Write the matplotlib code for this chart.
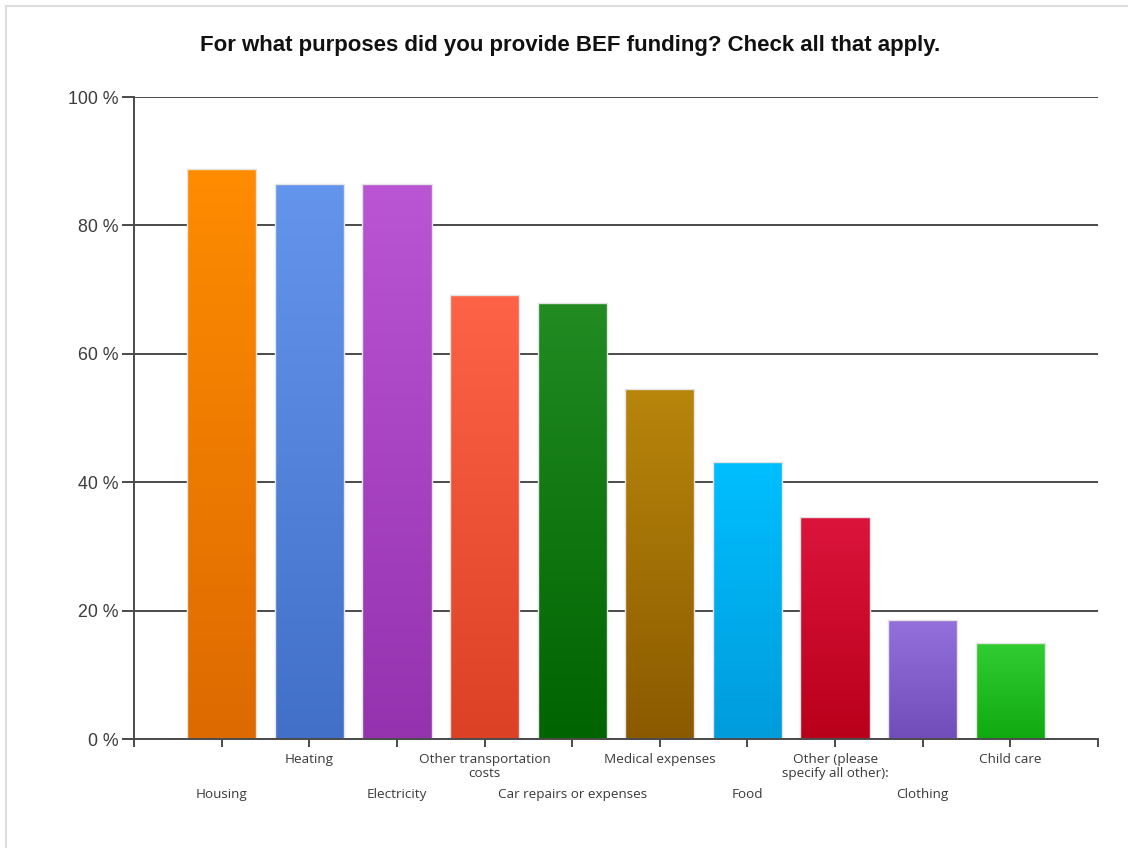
import numpy as np
import matplotlib
matplotlib.use("Agg")
import matplotlib.pyplot as plt
from matplotlib.colors import to_rgb
from matplotlib.lines import Line2D

categories = [
    "Housing", "Heating", "Electricity", "Other transportation\ncosts",
    "Car repairs or expenses", "Medical expenses", "Food",
    "Other (please\nspecify all other):", "Clothing", "Child care",
]
values = [88.8, 86.4, 86.4, 69.2, 67.9, 54.5, 43.1, 34.6, 18.5, 15.0]
top_colors = ["#FF8C00", "#6495ED", "#BA55D3", "#FF6347", "#228B22",
              "#B8860B", "#00BFFF", "#DC143C", "#9370DB", "#32CD32"]
bottom_colors = ["#DD6A00", "#4270C8", "#9532AE", "#DC4125", "#006400",
                 "#8B5A00", "#009CDC", "#B9001A", "#704DB8", "#10AA10"]
y_ticks = [0, 20, 40, 60, 80, 100]
y_tick_labels = [f"{t} %" for t in y_ticks]
title = "For what purposes did you provide BEF funding? Check all that apply."

W, H = 1128, 848
fig = plt.figure(figsize=(W / 100, H / 100), dpi=100)
fig.patch.set_facecolor("white")

# thin frame along the top and left edges of the canvas
fig.add_artist(Line2D([5.5 / W, 1], [1 - 5.5 / H, 1 - 5.5 / H], color="#dcdcdc", lw=1.5, transform=fig.transFigure))
fig.add_artist(Line2D([5.5 / W, 5.5 / W], [0, 1 - 5.5 / H], color="#dcdcdc", lw=1.5, transform=fig.transFigure))

ax = fig.add_axes([134 / W, 1 - 739 / H, (1098 - 134) / W, (739 - 97) / H])
ax.set_xlim(-1, len(categories))
ax.set_ylim(0, 100)

grid_color = "#4a4a4a"
for t in y_ticks:
    ax.axhline(t, color=grid_color, lw=1.4, zorder=1)

x = np.arange(len(categories))
bars = ax.bar(x, values, width=0.79, color="none", edgecolor="#e4e4e4", lw=1.0, zorder=3)

# vertical gradient fill for each bar, lighter at the top
for bar, c_top, c_bot in zip(bars, top_colors, bottom_colors):
    x0, w, h = bar.get_x(), bar.get_width(), bar.get_height()
    t = np.linspace(0, 1, 256)[:, None]
    grad = (np.array(to_rgb(c_top))[None, :] * (1 - t) + np.array(to_rgb(c_bot))[None, :] * t)
    img = ax.imshow(grad[:, None, :], extent=(x0, x0 + w, 0, h), aspect="auto",
                    origin="upper", zorder=2, interpolation="bilinear")
    img.set_clip_path(bar)

for side in ("top", "right"):
    ax.spines[side].set_visible(False)
for side in ("left", "bottom"):
    ax.spines[side].set_color(grid_color)
    ax.spines[side].set_linewidth(1.4)
    ax.spines[side].set_zorder(4)

ax.set_yticks(y_ticks)
ax.set_yticklabels(y_tick_labels, fontfamily="Liberation Sans", fontsize=12.8, color="#3c3c3c")
ax.tick_params(axis="y", length=9, width=1.4, color=grid_color, pad=2)

ax.set_xticks(np.arange(-1, len(categories) + 1))
ax.set_xticklabels([])
ax.tick_params(axis="x", length=6, width=1.4, color=grid_color)

# category labels staggered across two rows
for i, name in enumerate(categories):
    offset = -35.5 if i % 2 == 0 else -10
    ax.annotate(name, xy=(i, 0), xycoords=("data", "axes fraction"),
                xytext=(0, offset), textcoords="offset points",
                ha="center", va="top", fontsize=9.7, color="#3a3a3a",
                fontfamily="Open Sans", linespacing=1.1)

fig.text(570 / W, 1 - 45 / H, title, ha="center", va="center",
         fontfamily="Liberation Sans", fontweight="bold", fontsize=16, color="#111111")

fig.savefig("out.png", dpi=100, facecolor="white")
